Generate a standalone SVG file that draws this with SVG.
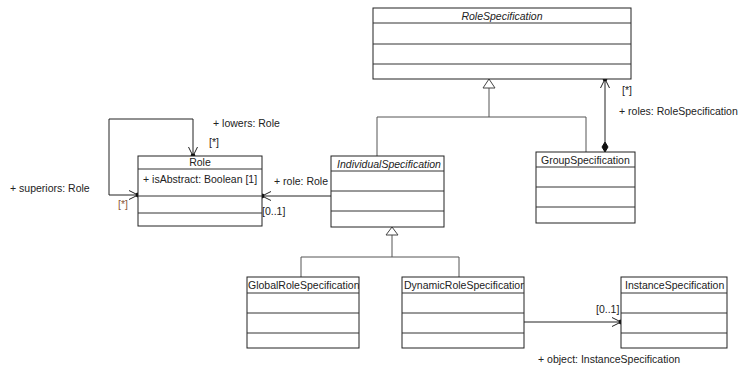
<svg xmlns="http://www.w3.org/2000/svg" width="739" height="367" viewBox="0 0 739 367">
<style>
.box{fill:#fff;stroke:#222;stroke-width:1}
.div{stroke:#333;stroke-width:1}
.gen{fill:none;stroke:#555;stroke-width:1}
.asc{fill:none;stroke:#222;stroke-width:1}
.t{font-family:"Liberation Sans",Arial,sans-serif;font-size:10.5px;fill:#222}
.i{font-style:italic}
.m{fill:#222}
.b{fill:#8a5a3a}
</style>
<defs>
<marker id="nav" markerUnits="userSpaceOnUse" viewBox="0 0 12 12" refX="10" refY="6" markerWidth="12" markerHeight="12" orient="auto-start-reverse">
<path d="M1,1.5 L10,6 L1,10.5" fill="none" stroke="#222" stroke-width="1"/>
<circle cx="10" cy="6" r="2.4" fill="#111"/>
</marker>
<clipPath id="cG"><rect x="247" y="277" width="112" height="16"/></clipPath>
<clipPath id="cD"><rect x="402" y="277" width="122" height="16"/></clipPath>
</defs>
<rect width="739" height="367" fill="#fff"/>

<g id="connectors">
<!-- generalization to RoleSpecification -->
<path class="gen" d="M489,88 V117 M377,117 H586 M377,117 V156 M586,117 V152"/>
<polygon points="489,79 483,88 495,88" fill="#fff" stroke="#444"/>
<!-- generalization to IndividualSpecification -->
<path class="gen" d="M392,235 V257 M301,257 H459 M301,257 V277 M459,257 V277"/>
<polygon points="392,227 386,235 398,235" fill="#fff" stroke="#444"/>
<!-- composition roles -->
<line class="asc" x1="605" y1="142" x2="605" y2="79" marker-end="url(#nav)"/>
<polygon points="605,152 602,147 605,142 608,147" fill="#111" stroke="#111"/>
<!-- self association on Role -->
<path class="asc" d="M193,156 V119 H109 V195 H138" marker-start="url(#nav)" marker-end="url(#nav)"/>
<!-- role association -->
<line class="asc" x1="331" y1="196" x2="262" y2="196" marker-end="url(#nav)"/>
<!-- object association -->
<line class="asc" x1="524" y1="322" x2="621" y2="322" marker-end="url(#nav)"/>
<text class="t" x="213" y="127">+ lowers: Role</text>
<text class="t" x="209" y="146">[*]</text>
<text class="t" x="10" y="192">+ superiors: Role</text>
<text class="t b" x="118" y="208">[*]</text>
<text class="t" x="274" y="185">+ role: Role</text>
<text class="t" x="262" y="215">[0..1]</text>
<text class="t" x="622" y="94">[*]</text>
<text class="t" x="619" y="115">+ roles: RoleSpecification</text>
<text class="t" x="596" y="313">[0..1]</text>
<text class="t" x="538" y="363">+ object: InstanceSpecification</text>
</g>

<g id="RoleSpecification">
<rect class="box" x="373" y="8" width="258" height="71"/>
<path class="div" d="M373,23 H631 M373,44 H631 M373,64 H631"/>
<text class="t i" x="502" y="20" text-anchor="middle">RoleSpecification</text>
</g>

<g id="Role">
<rect class="box" x="138" y="156" width="124" height="70"/>
<path class="div" d="M138,169 H262 M138,196 H262 M138,213 H262"/>
<text class="t" x="200" y="166" text-anchor="middle">Role</text>
<text class="t" x="143" y="183">+ isAbstract: Boolean [1]</text>
</g>

<g id="IndividualSpecification">
<rect class="box" x="331" y="156" width="113" height="71"/>
<path class="div" d="M331,171 H444 M331,191 H444 M331,211 H444"/>
<text class="t i" x="389" y="168" text-anchor="middle">IndividualSpecification</text>
</g>

<g id="GroupSpecification">
<rect class="box" x="536" y="152" width="99" height="71"/>
<path class="div" d="M536,167 H635 M536,187 H635 M536,207 H635"/>
<text class="t" x="541" y="164">GroupSpecification</text>
</g>

<g id="GlobalRoleSpecification">
<rect class="box" x="247" y="277" width="112" height="71"/>
<path class="div" d="M247,293 H359 M247,313 H359 M247,333 H359"/>
<text class="t" x="248" y="289" clip-path="url(#cG)">GlobalRoleSpecification</text>
</g>

<g id="DynamicRoleSpecification">
<rect class="box" x="402" y="277" width="122" height="71"/>
<path class="div" d="M402,293 H524 M402,313 H524 M402,333 H524"/>
<text class="t" x="404" y="289" clip-path="url(#cD)">DynamicRoleSpecification</text>
</g>

<g id="InstanceSpecification">
<rect class="box" x="621" y="277" width="106" height="71"/>
<path class="div" d="M621,293 H727 M621,313 H727 M621,333 H727"/>
<text class="t" x="625" y="289">InstanceSpecification</text>
</g>
</svg>
